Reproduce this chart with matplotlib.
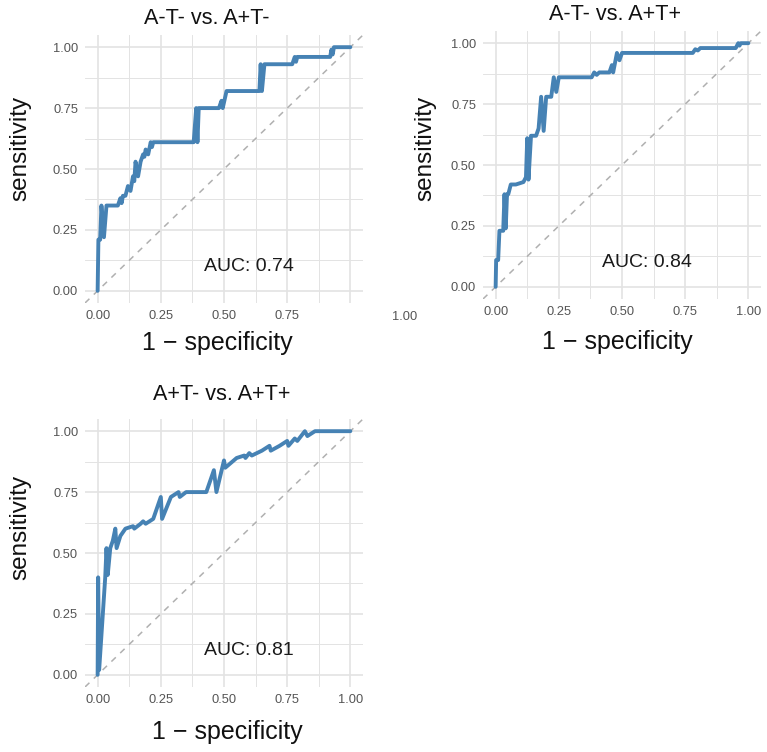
import matplotlib
matplotlib.use("Agg")
import matplotlib.pyplot as plt

plt.rcParams["font.family"] = ["Liberation Sans", "DejaVu Sans"]

# ROC curves: x = 1 - specificity, y = sensitivity
fpr_1 = [0, 0.003, 0.01, 0.015, 0.025, 0.035, 0.08, 0.09, 0.095, 0.10, 0.11,
         0.12, 0.13, 0.14, 0.145, 0.15, 0.16, 0.17, 0.18, 0.185, 0.19, 0.20,
         0.21, 0.215, 0.22, 0.38, 0.39, 0.395, 0.40, 0.41, 0.48, 0.49, 0.495,
         0.51, 0.52, 0.64, 0.645, 0.65, 0.66, 0.77, 0.78, 0.785, 0.79, 0.92,
         0.925, 0.93, 0.935, 1.0]
tpr_1 = [0, 0.21, 0.21, 0.35, 0.22, 0.35, 0.35, 0.38, 0.36, 0.39, 0.39,
         0.43, 0.41, 0.47, 0.45, 0.53, 0.47, 0.53, 0.56, 0.55, 0.58, 0.56,
         0.61, 0.59, 0.61, 0.61, 0.75, 0.61, 0.75, 0.75, 0.75, 0.78, 0.75,
         0.82, 0.82, 0.82, 0.93, 0.82, 0.93, 0.93, 0.96, 0.94, 0.96, 0.96,
         0.99, 0.97, 1.0, 1.0]

fpr_2 = [0, 0.002, 0.01, 0.015, 0.03, 0.035, 0.04, 0.045, 0.05, 0.06, 0.08,
         0.11, 0.12, 0.125, 0.13, 0.14, 0.16, 0.17, 0.18, 0.19, 0.20, 0.22,
         0.23, 0.24, 0.25, 0.38, 0.39, 0.40, 0.41, 0.45, 0.46, 0.465, 0.48,
         0.49, 0.50, 0.78, 0.79, 0.80, 0.81, 0.95, 0.96, 0.965, 0.97, 1.0]
tpr_2 = [0, 0.11, 0.11, 0.23, 0.23, 0.38, 0.24, 0.38, 0.38, 0.42, 0.42,
         0.43, 0.45, 0.61, 0.44, 0.62, 0.62, 0.65, 0.78, 0.64, 0.78, 0.78,
         0.86, 0.80, 0.86, 0.86, 0.88, 0.87, 0.88, 0.88, 0.91, 0.88, 0.96,
         0.93, 0.96, 0.96, 0.975, 0.97, 0.98, 0.98, 1.0, 0.99, 1.0, 1.0]

fpr_3 = [0, 0.002, 0.006, 0.03, 0.035, 0.04, 0.05, 0.06, 0.07, 0.075, 0.09,
         0.11, 0.14, 0.145, 0.17, 0.18, 0.19, 0.22, 0.25, 0.255, 0.29, 0.32,
         0.325, 0.35, 0.43, 0.46, 0.47, 0.50, 0.505, 0.55, 0.58, 0.585, 0.60,
         0.61, 0.65, 0.68, 0.685, 0.72, 0.75, 0.755, 0.78, 0.79, 0.82, 0.83,
         0.86, 1.0]
tpr_3 = [0, 0.40, 0.02, 0.40, 0.52, 0.41, 0.52, 0.55, 0.60, 0.52, 0.57,
         0.60, 0.61, 0.60, 0.62, 0.63, 0.62, 0.64, 0.73, 0.64, 0.73, 0.75,
         0.73, 0.75, 0.75, 0.84, 0.75, 0.88, 0.85, 0.89, 0.90, 0.89, 0.91,
         0.90, 0.92, 0.94, 0.92, 0.94, 0.96, 0.94, 0.97, 0.96, 1.0, 0.98,
         1.0, 1.0]

titles = ["A-T- vs. A+T-", "A-T- vs. A+T+", "A+T- vs. A+T+"]
auc_labels = ["AUC: 0.74", "AUC: 0.84", "AUC: 0.81"]
tick_vals = [0, 0.25, 0.5, 0.75, 1.0]
tick_text = ["0.00", "0.25", "0.50", "0.75", "1.00"]

W, H = 767, 752
LINE = "#4682B4"
GRID = "#E3E3E3"
TICK = "#555555"

fig = plt.figure(figsize=(W / 100, H / 100), dpi=100)

# panel boxes in pixels: left, top, right, bottom
boxes = [(85, 35, 363, 303), (483, 31, 761, 299), (85, 419, 363, 687)]
title_xy = [(207, 18), (615, 15), (222, 395)]
xlab_xy = [(217, 343), (617, 342), (227, 732)]
ylab_xy = [(20, 148), (425, 148), (20, 527)]
curves = [(fpr_1, tpr_1), (fpr_2, tpr_2), (fpr_3, tpr_3)]

for i, (l, t, r, b) in enumerate(boxes):
    ax = fig.add_axes([l / W, 1 - b / H, (r - l) / W, (b - t) / H])
    ax.set_xlim(-0.05, 1.05)
    ax.set_ylim(-0.05, 1.05)
    for s in ax.spines.values():
        s.set_visible(False)
    minor = [0.125, 0.375, 0.625, 0.875]
    for v in minor:
        ax.axvline(v, color=GRID, lw=0.7, zorder=0)
        ax.axhline(v, color=GRID, lw=0.7, zorder=0)
    for v in tick_vals:
        ax.axvline(v, color=GRID, lw=1.2, zorder=0)
        ax.axhline(v, color=GRID, lw=1.2, zorder=0)
    ax.axline((0, 0), (1, 1), color="#B0B0B0", lw=1.1, ls=(0, (4, 4)), zorder=1)
    fx, ty = curves[i]
    ax.plot(fx, ty, color=LINE, lw=2.8, solid_joinstyle="round",
            solid_capstyle="round", zorder=2)
    ax.text(0.6, 0.1, auc_labels[i], ha="center", va="center", fontsize=14,
            color="#1a1a1a")

    ax.tick_params(length=0, labelsize=9.3, labelcolor=TICK, pad=5)
    ax.set_yticks(tick_vals)
    ax.set_yticklabels(tick_text)
    if i == 0:
        # the 1.00 label of the first panel sits displaced in the reference
        ax.set_xticks(tick_vals[:-1])
        ax.set_xticklabels(tick_text[:-1])
    else:
        ax.set_xticks(tick_vals)
        ax.set_xticklabels(tick_text)

    tx, tyy = title_xy[i]
    fig.text(tx / W, 1 - tyy / H, titles[i], ha="center", va="center",
             fontsize=15.6, color="#111111")
    xx, xy = xlab_xy[i]
    fig.text(xx / W, 1 - xy / H, "1 \u2212 specificity", ha="center",
             va="center", fontsize=18, color="#111111")
    yx, yy = ylab_xy[i]
    fig.text(yx / W, 1 - yy / H, "sensitivity", ha="center", va="center",
             rotation=90, fontsize=17.5, color="#111111")

fig.text(405 / W, 1 - 317 / H, "1.00", ha="center", va="center",
         fontsize=9.3, color=TICK)

fig.savefig("out.png", dpi=100, facecolor="white")
